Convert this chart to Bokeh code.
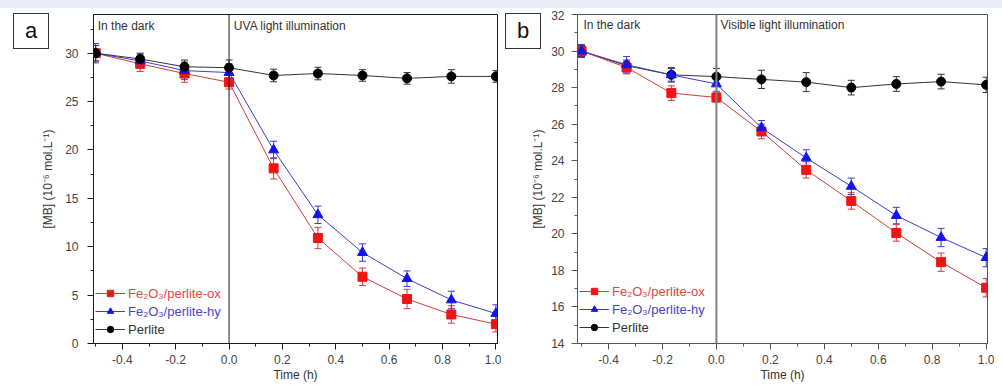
from bokeh.plotting import figure
from bokeh.layouts import row, column
from bokeh.models import (Range1d, SingleIntervalTicker, NumeralTickFormatter, Whisker, Div,
                          ColumnDataSource, Legend, LegendItem, Label, Span, TeeHead)
from bokeh.embed import file_html
from bokeh.resources import INLINE

FONT = "Liberation Sans"

# ---------------- data ----------------
time_h = [-0.5, -0.333, -0.167, 0.0, 0.167, 0.333, 0.5, 0.667, 0.833, 1.0]

# panel a (UVA)
a_ox = [30.0, 28.9, 27.9, 27.0, 18.1, 10.9, 6.9, 4.6, 3.0, 2.0]
a_ox_err = [0.8, 0.8, 0.9, 0.7, 1.1, 1.1, 0.9, 1.0, 0.9, 0.8]
a_hy = [30.0, 29.2, 28.2, 28.0, 20.0, 13.3, 9.4, 6.7, 4.5, 3.1]
a_hy_err = [1.0, 0.7, 0.9, 0.9, 0.9, 0.9, 0.9, 0.8, 0.9, 0.9]
a_perl = [30.0, 29.4, 28.6, 28.5, 27.7, 27.9, 27.7, 27.4, 27.6, 27.6]
a_perl_err = [0.8, 0.6, 0.7, 0.8, 0.65, 0.65, 0.6, 0.6, 0.7, 0.6]

# panel b (visible)
b_ox = [30.0, 29.1, 27.7, 27.46, 25.6, 23.5, 21.8, 20.05, 18.45, 17.05]
b_ox_err = [0.35, 0.35, 0.4, 0.25, 0.4, 0.45, 0.45, 0.45, 0.5, 0.5]
b_hy = [30.0, 29.25, 28.7, 28.2, 25.8, 24.15, 22.6, 21.0, 19.8, 18.7]
b_hy_err = [0.35, 0.45, 0.4, 0.4, 0.4, 0.45, 0.45, 0.45, 0.5, 0.5]
b_perl = [30.0, 29.2, 28.7, 28.6, 28.45, 28.3, 28.0, 28.2, 28.33, 28.15]
b_perl_err = [0.3, 0.3, 0.35, 0.45, 0.5, 0.52, 0.4, 0.4, 0.4, 0.42]

series_names = ["Fe\u2082O\u2083/perlite-ox", "Fe\u2082O\u2083/perlite-hy", "Perlite"]
y_label = "[MB] (10\u207b\u2076 mol.L\u207b\u00b9)"
x_label = "Time (h)"
panel_letters = ["a", "b"]

RED_M, RED_L, RED_T = "#f01414", "#d03c3c", "#e04646"
BLUE_M, BLUE_L, BLUE_T = "#1414f0", "#3c3cd0", "#4646c8"
BLK_M, BLK_L, BLK_T = "#000000", "#333333", "#333333"


def style_axes(p, y_interval, label_standoff, axis_standoff, frame_color):
    p.xgrid.visible = False
    p.ygrid.visible = False
    p.outline_line_color = frame_color
    p.outline_line_width = 1
    p.xaxis.ticker = SingleIntervalTicker(interval=0.2, num_minor_ticks=2)
    p.xaxis.formatter = NumeralTickFormatter(format="0.0")
    p.yaxis.ticker = SingleIntervalTicker(interval=y_interval, num_minor_ticks=2)
    for ax in (p.xaxis[0], p.yaxis[0]):
        ax.axis_line_color = frame_color
        ax.major_tick_line_color = frame_color
        ax.minor_tick_line_color = frame_color
        ax.major_tick_in = 0
        ax.major_tick_out = 6
        ax.minor_tick_in = 0
        ax.minor_tick_out = 3
        ax.major_label_text_font = FONT
        ax.major_label_text_font_size = "12px"
        ax.major_label_text_color = "#444444"
        ax.axis_label_text_font = FONT
        ax.axis_label_text_font_size = "12px"
        ax.axis_label_text_font_style = "normal"
        ax.axis_label_text_color = "#333333"
    p.xaxis.axis_label = x_label
    p.xaxis.major_label_standoff = 5
    p.xaxis.axis_label_standoff = 1
    p.yaxis.axis_label = y_label
    p.yaxis.major_label_standoff = label_standoff
    p.yaxis.axis_label_standoff = axis_standoff


def add_series(p, y, err, mcolor, lcolor, marker, size):
    src = ColumnDataSource(dict(x=time_h, y=y,
                                lo=[v - e for v, e in zip(y, err)],
                                hi=[v + e for v, e in zip(y, err)]))
    w = Whisker(base="x", upper="hi", lower="lo", source=src, line_color=lcolor, line_width=1,
                upper_head=TeeHead(size=7, line_color=lcolor, line_width=1),
                lower_head=TeeHead(size=7, line_color=lcolor, line_width=1))
    p.add_layout(w)
    ln = p.line("x", "y", source=src, line_color=lcolor, line_width=1)
    sc = p.scatter("x", "y", source=src, marker=marker, size=size, fill_color=mcolor,
                   line_color=mcolor)
    return [ln, sc]


def add_legends(p, entries, bottoms):
    for (label, rends, tcolor), yb in zip(entries, bottoms):
        lg = Legend(items=[LegendItem(label=label, renderers=rends)], location=(2, yb),
                    padding=0, margin=0, spacing=0, glyph_width=30, glyph_height=16,
                    label_height=16, label_standoff=3, label_text_font=FONT,
                    label_text_font_size="13px", label_text_color=tcolor,
                    border_line_color=None, background_fill_alpha=0)
        p.add_layout(lg)


# ---------------- panel a ----------------
pa = figure(width=501, height=374, x_range=Range1d(-0.508, 1.006), y_range=Range1d(0, 34),
            output_backend="svg", toolbar_location=None,
            min_border_left=93, min_border_right=4, min_border_top=4, min_border_bottom=41)
style_axes(pa, 5, 9, 7, "#1a1a1a")
pa.add_layout(Span(location=0, dimension="height", line_color="#1a1a1a", line_width=1))
ra = add_series(pa, a_ox, a_ox_err, RED_M, RED_L, "square", 9)
ba = add_series(pa, a_hy, a_hy_err, BLUE_M, BLUE_L, "triangle", 10)
ka = add_series(pa, a_perl, a_perl_err, BLK_M, BLK_L, "circle", 9)
add_legends(pa, [(series_names[0], ra, RED_T), (series_names[1], ba, BLUE_T),
                 (series_names[2], ka, BLK_T)], [42, 24, 6])
pa.add_layout(Label(x=-0.492, y=32.8, text="In the dark", text_font=FONT, text_font_size="12px",
                    text_color="#333333", text_baseline="middle"))
pa.add_layout(Label(x=0.018, y=32.8, text="UVA light illumination", text_font=FONT,
                    text_font_size="12px", text_color="#333333", text_baseline="middle"))

# ---------------- panel b ----------------
pb = figure(width=493, height=374, x_range=Range1d(-0.515, 1.005), y_range=Range1d(14, 32),
            output_backend="svg", toolbar_location=None,
            min_border_left=76, min_border_right=7, min_border_top=1, min_border_bottom=41)
style_axes(pb, 2, 7, 3, "#555555")
pb.add_layout(Span(location=0, dimension="height", line_color="#808080", line_width=2))
kb = add_series(pb, b_perl, b_perl_err, BLK_M, BLK_L, "circle", 9)
rb = add_series(pb, b_ox, b_ox_err, RED_M, RED_L, "square", 9)
bb = add_series(pb, b_hy, b_hy_err, BLUE_M, BLUE_L, "triangle", 10)
add_legends(pb, [(series_names[0], rb, RED_T), (series_names[1], bb, BLUE_T),
                 (series_names[2], kb, BLK_T)], [44, 26, 8])
pb.add_layout(Label(x=-0.493, y=31.45, text="In the dark", text_font=FONT, text_font_size="12px",
                    text_color="#333333", text_baseline="middle"))
pb.add_layout(Label(x=0.015, y=31.45, text="Visible light illumination", text_font=FONT,
                    text_font_size="12px", text_color="#333333", text_baseline="middle"))

# shift the x-axis titles a little left of centre, as in the reference (if supported)
for p in (pa, pb):
    try:
        p.xaxis[0].axis_label_align = "left"
        p.xaxis[0].axis_label_standoff = 1
    except Exception:
        pass

# ---------------- overlay: page band and panel letter boxes (viewport-fixed) ----------------
box_css = ("position:fixed;top:13px;width:36px;height:36px;border:1px solid #333;"
           "background:#fff;font-family:'Liberation Sans';font-size:22px;line-height:34px;"
           "text-align:center;color:#111;z-index:100;")
overlay_html = ('<div style="position:fixed;left:0px;top:0px;width:1002px;height:8px;'
                'background:#e7ebf5;z-index:100;"></div>'
                f'<div style="{box_css}left:13px;">{panel_letters[0]}</div>'
                f'<div style="{box_css}left:505px;">{panel_letters[1]}</div>')
overlay = Div(text=overlay_html, width=1, height=0,
              styles={"overflow": "visible", "z-index": "100"})
layout = column(overlay, row(pa, pb, spacing=0), spacing=0)
open("out.html", "w").write(file_html(layout, INLINE))
